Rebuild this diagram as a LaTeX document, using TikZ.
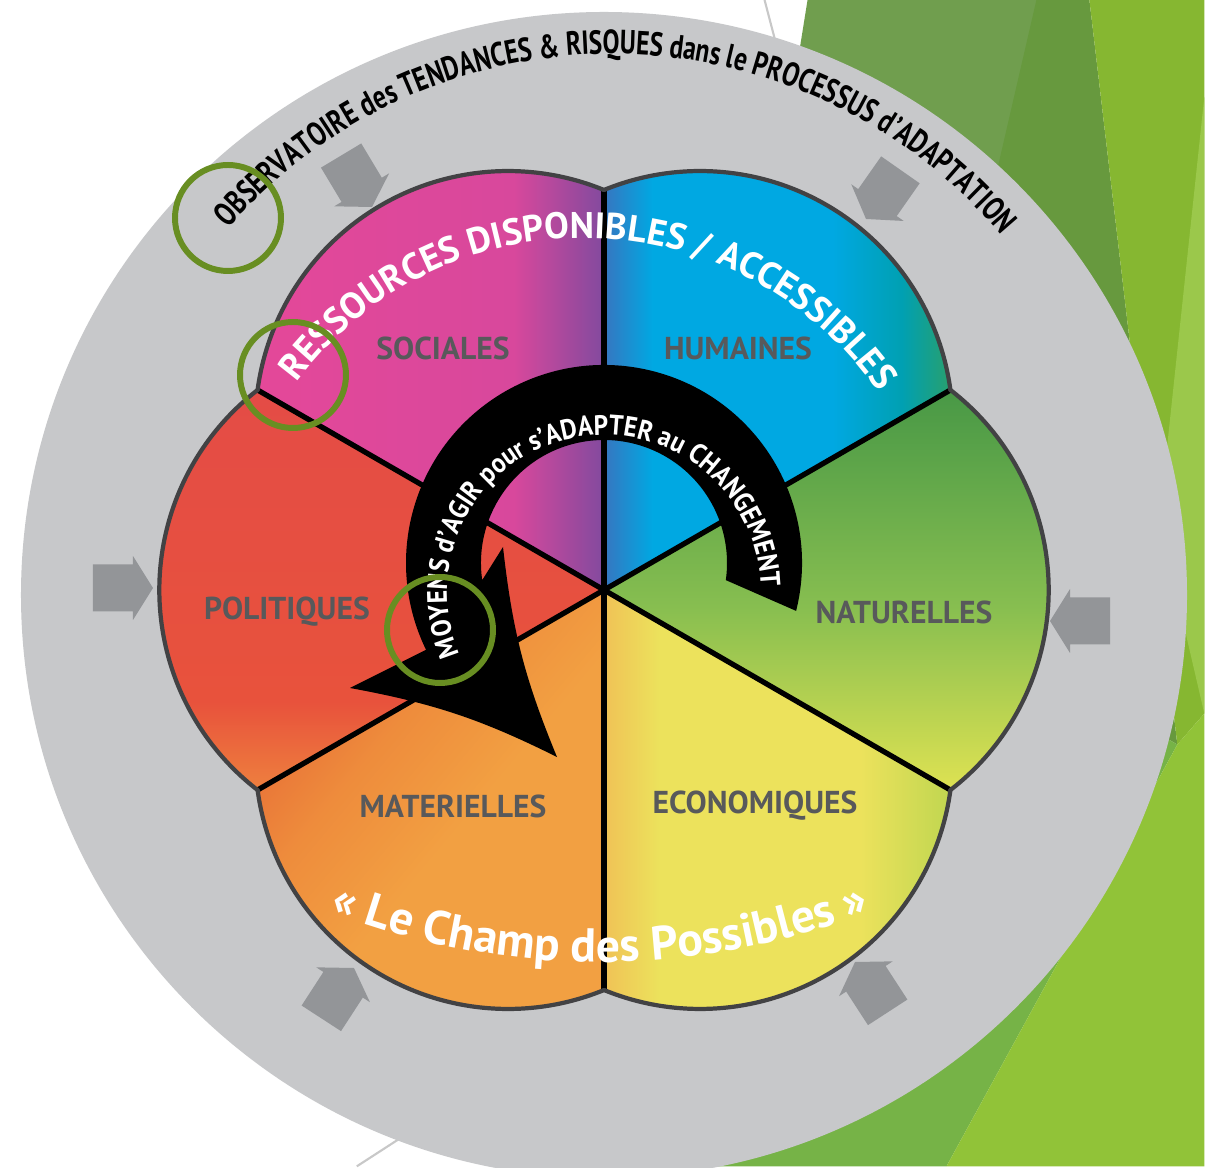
\documentclass[tikz,border=0pt]{standalone}
\usepackage{fontspec}
\setmainfont{PT Sans}
\newfontfamily\narrowfont{PT Sans}[FakeStretch=0.76]
\newfontfamily\bandfont{PT Sans}[FakeStretch=0.9]
\usetikzlibrary{calc,decorations.text}

\definecolor{RingClr}{RGB}{199,200,202}
\definecolor{ArrowClr}{RGB}{147,149,152}
\definecolor{EdgeClr}{RGB}{66,66,68}
\definecolor{LabelClr}{RGB}{88,89,91}
\definecolor{MarkClr}{RGB}{104,142,34}
\definecolor{FaintClr}{RGB}{200,200,200}
\definecolor{FacetA}{RGB}{112,158,78}
\definecolor{FacetB}{RGB}{103,153,62}
\definecolor{FacetC}{RGB}{134,183,49}
\definecolor{FacetD}{RGB}{155,200,75}
\definecolor{FacetE}{RGB}{118,179,71}
\definecolor{FacetF}{RGB}{145,195,56}

\definecolor{SocPink}{RGB}{228,72,153}
\definecolor{SocPinkB}{RGB}{216,72,156}
\definecolor{SocPurple}{RGB}{130,74,158}
\definecolor{HumBlue}{RGB}{55,118,192}
\definecolor{HumCyan}{RGB}{0,168,226}
\definecolor{HumTeal}{RGB}{0,160,178}
\definecolor{HumGreen}{RGB}{40,160,110}
\definecolor{NatDark}{RGB}{72,152,70}
\definecolor{NatMid}{RGB}{135,190,80}
\definecolor{NatYel}{RGB}{222,226,82}
\definecolor{EcoOrange}{RGB}{240,194,86}
\definecolor{EcoYel}{RGB}{236,226,92}
\definecolor{EcoGreen}{RGB}{192,214,80}
\definecolor{MatDark}{RGB}{230,104,54}
\definecolor{MatMid}{RGB}{238,140,60}
\definecolor{MatLight}{RGB}{242,160,66}
\definecolor{PolOrange}{RGB}{238,128,62}
\definecolor{PolRed}{RGB}{232,82,60}
\definecolor{PolTop}{RGB}{228,76,70}

% petal gradients (the path box sits between 25bp and 75bp)
\pgfdeclarehorizontalshading{SocShade}{100bp}{color(0bp)=(SocPink); color(25bp)=(SocPink); color(62bp)=(SocPinkB); color(75bp)=(SocPurple); color(100bp)=(SocPurple)}
\pgfdeclarehorizontalshading{HumShade}{100bp}{color(0bp)=(HumBlue); color(25bp)=(HumBlue); color(32bp)=(HumCyan); color(58bp)=(HumCyan); color(68bp)=(HumTeal); color(75bp)=(HumGreen); color(100bp)=(HumGreen)}
\pgfdeclareverticalshading{NatShade}{100bp}{color(0bp)=(NatYel); color(25bp)=(NatYel); color(48bp)=(NatMid); color(75bp)=(NatDark); color(100bp)=(NatDark)}
\pgfdeclarehorizontalshading{EcoShade}{100bp}{color(0bp)=(EcoOrange); color(25bp)=(EcoOrange); color(33bp)=(EcoYel); color(62bp)=(EcoYel); color(75bp)=(EcoGreen); color(100bp)=(EcoGreen)}
\pgfdeclarehorizontalshading{MatShade}{100bp}{color(0bp)=(MatDark); color(25bp)=(MatDark); color(40bp)=(MatMid); color(55bp)=(MatLight); color(100bp)=(MatLight)}
\pgfdeclareverticalshading{PolShade}{100bp}{color(0bp)=(PolOrange); color(25bp)=(PolOrange); color(36bp)=(PolRed); color(75bp)=(PolTop); color(100bp)=(PolTop)}

\begin{document}
\begin{tikzpicture}[
  petaledge/.style={EdgeClr, line width=1.2pt, line cap=round, line join=round},
  divider/.style={black, line width=1.5pt},
  petallabel/.style={text=LabelClr, font=\bfseries\fontsize{9}{10}\selectfont},
  markcircle/.style={MarkClr, line width=1.7pt},
  ringarrow/.pic={\fill[ArrowClr] (0,0) -- (-0.2,0.32) -- (-0.2,0.235) -- (-0.6,0.235)
    -- (-0.6,-0.235) -- (-0.2,-0.235) -- (-0.2,-0.32) -- cycle;}
]
\useasboundingbox (-6.04,-5.77) rectangle (6.01,5.90);
\fill[white] (-6.04,-5.77) rectangle (6.01,5.90);

% slide facets, in pixel units
\begin{scope}[shift={(-6.04,5.90)}, x=0.01cm, y=-0.01cm]
  \fill[FacetA] (808,0) -- (1040,0) -- (960,420) -- (760,300) -- cycle;
  \fill[FacetB] (1037,0) -- (1090,0) -- (1178,745) -- (1000,640) -- (940,420) -- cycle;
  \fill[FacetC] (1090,0) -- (1205,0) -- (1205,714) -- (1178,745) -- cycle;
  \fill[FacetD] (1205,97) -- (1160,520) -- (1205,714) -- cycle;
  \fill[FacetE] (700,1167) -- (947,1167) -- (1178,745) -- (1000,640) -- cycle;
  \fill[FacetF] (947,1167) -- (1205,1167) -- (1205,714) -- (1178,745) -- cycle;
  \draw[FaintClr, line width=0.6pt] (765,0) -- (776,42);
  \draw[FaintClr, line width=0.6pt] (357,1167) -- (408,1134);
\end{scope}

\fill[RingClr] (0,-0.05) circle[radius=5.83];

\foreach \ang/\shd/\rot in {120/SocShade/0, 60/HumShade/0, 0/NatShade/0, -60/EcoShade/0, -120/MatShade/-40, 180/PolShade/0}
  \shade[shading=\shd, shading angle=\rot] (0,0) -- (\ang-30:4)
    arc[start angle=\ang-52.33, end angle=\ang+52.33, radius=2.527] -- cycle;

\foreach \a in {30,90,...,330}
  \draw[divider] (0,0) -- (\a:4);

\foreach \ang in {120,60,0,-60,-120,180}
  \draw[petaledge] (\ang-30:4) arc[start angle=\ang-52.33, end angle=\ang+52.33, radius=2.527];

\foreach \x/\y/\dir in {-2.32/3.83/-59, 2.62/3.71/-125, -4.51/0.02/0, 4.46/-0.31/180, -2.50/-3.78/57, 2.51/-3.72/123}
  \pic[rotate=\dir] at (\x,\y) {ringarrow};

% black turning arrow
\coordinate (Cb) at (0,0.27);
\coordinate (lbarb) at (-2.54,-0.98);
\coordinate (atip) at (-0.47,-1.67);
\coordinate (rbarb) at (-1.01,0.43);
\fill[black] ($(Cb)+(-14:1.98)$) arc[start angle=-14, end angle=206, radius=1.98]
  -- (lbarb) to[bend left=8] (atip) to[bend left=8] (rbarb)
  -- ($(Cb)+(188:1.23)$) arc[start angle=188, end angle=-8, radius=1.23] -- cycle;

% texts along arcs
\path[decorate, decoration={text along path, text align=center,
  text={|\narrowfont\bfseries\fontsize{9.5}{11}\selectfont|OBSERVATOIRE des TENDANCES {\&} RISQUES dans le PROCESSUS d’ADAPTATION}}]
  (0.08,0.27) ++(141:5.09) arc[start angle=141, end angle=38, radius=5.09];

\path[decorate, decoration={text along path, text align=center,
  text={|\color{white}\bfseries\fontsize{10.5}{12}\selectfont|RESSOURCES DISPONIBLES / ACCESSIBLES}}]
  (-0.2,-0.06) ++(147:3.58) arc[start angle=147, end angle=31, radius=3.58];

\path[decorate, decoration={text along path, text align=center,
  text={|\color{white}\bandfont\bfseries\fontsize{8}{9}\selectfont|MOYENS d’AGIR pour s’ADAPTER au CHANGEMENT}}]
  (0,-0.02) ++(206:1.57) arc[start angle=206, end angle=-1, radius=1.57];

\path[decorate, decoration={text along path, text align=center,
  text={|\color{white}\bfseries\fontsize{13.5}{15}\selectfont|« Le Champ des Possibles »}}]
  (-0.04,3.71) ++(248.3:7.43) arc[start angle=248.3, end angle=291.7, radius=7.43];

\node[petallabel] (soc) at (-1.61,2.42) {SOCIALES};
\node[petallabel] (hum) at (1.34,2.42) {HUMAINES};
\node[petallabel] (pol) at (-3.17,-0.22) {POLITIQUES};
\node[petallabel] (nat) at (3.00,-0.22) {NATURELLES};
\node[petallabel] (mat) at (-1.51,-2.16) {MATERIELLES};
\node[petallabel] (eco) at (1.51,-2.16) {ECONOMIQUES};

\foreach \x/\y in {-3.76/3.72, -3.11/2.15, -1.64/-0.40}
  \draw[markcircle] (\x,\y) circle[radius=0.53];

\end{tikzpicture}
\end{document}
